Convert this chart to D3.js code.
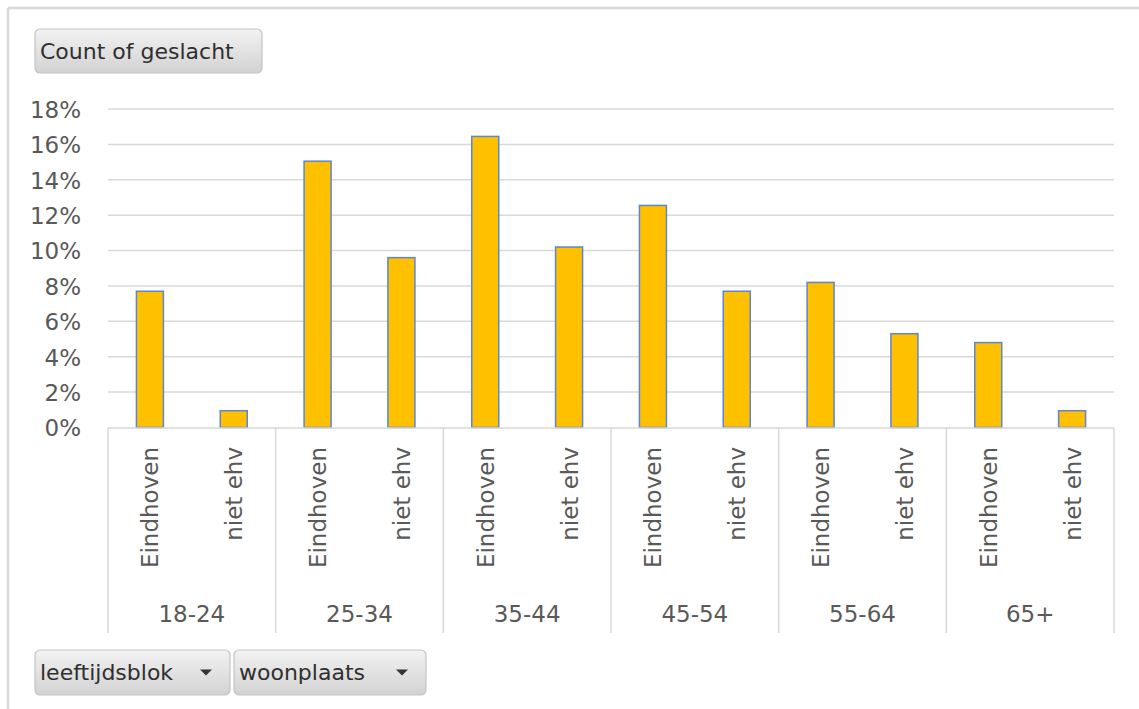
<!DOCTYPE html>
<html><head><meta charset="utf-8">
<script src="https://cdn.jsdelivr.net/npm/d3@7"></script>
<style>body{margin:0;background:#fff}svg{display:block}</style>
</head><body>
<script>
const groups = ["18-24","25-34","35-44","45-54","55-64","65+"];
const places = ["Eindhoven","niet ehv"];
const eindhoven = [0.077, 0.1505, 0.1645, 0.1255, 0.082, 0.048];
const nietEhv = [0.0095, 0.096, 0.102, 0.077, 0.053, 0.0095];
const yTicks = [0,0.02,0.04,0.06,0.08,0.10,0.12,0.14,0.16,0.18];

const W=1139,H=709;
const font="DejaVu Sans";
const svg=d3.select("body").append("svg").attr("width",W).attr("height",H);

const defs=svg.append("defs");
const g1=defs.append("linearGradient").attr("id","btn").attr("x1",0).attr("y1",0).attr("x2",0).attr("y2",1);
g1.append("stop").attr("offset","0%").attr("stop-color","#f2f2f2");
g1.append("stop").attr("offset","100%").attr("stop-color","#d2d2d2");

svg.append("line").attr("x1",8).attr("x2",W).attr("y1",8).attr("y2",8).attr("stroke","#d9d9d9").attr("stroke-width",2.5);
svg.append("line").attr("x1",8).attr("x2",8).attr("y1",8).attr("y2",H).attr("stroke","#d9d9d9").attr("stroke-width",2.5);

const L=108,R=1114,T=109,B=427.5;
const y=d3.scaleLinear().domain([0,0.18]).range([B,T]);
const x0=d3.scaleBand().domain(groups).range([L,R]).padding(0);
const x1=d3.scaleBand().domain(places).range([0,x0.bandwidth()]).padding(0);

svg.append("g").selectAll("line").data(yTicks.slice(1)).join("line")
  .attr("x1",L).attr("x2",R).attr("y1",d=>y(d)).attr("y2",d=>y(d))
  .attr("stroke","#d9d9d9").attr("stroke-width",1.5);

const yAxis=d3.axisLeft(y).tickValues(yTicks).tickFormat(d3.format(".0%")).tickSize(0).tickPadding(0);
const ya=svg.append("g").attr("transform","translate(81,0)").call(yAxis);
ya.select(".domain").remove();
ya.selectAll("text").attr("font-family",font).attr("font-size",23).attr("fill","#595959").attr("dy","0.36em");

const data=groups.map((g,i)=>({g,vals:[{p:places[0],v:eindhoven[i]},{p:places[1],v:nietEhv[i]}]}));
const bw=27;
const gg=svg.append("g").selectAll("g").data(data).join("g").attr("transform",d=>`translate(${x0(d.g)},0)`);
gg.selectAll("rect").data(d=>d.vals).join("rect")
  .attr("x",d=>x1(d.p)+x1.bandwidth()/2-bw/2).attr("width",bw)
  .attr("y",d=>y(d.v)).attr("height",d=>B-y(d.v))
  .attr("fill","#FFC000").attr("stroke","#5B86D0").attr("stroke-width",1.5);

svg.append("line").attr("x1",L).attr("x2",R).attr("y1",B+0.5).attr("y2",B+0.5).attr("stroke","#d9d9d9").attr("stroke-width",1.5);
const seps=groups.map(g=>x0(g)).concat([R]);
svg.append("g").selectAll("line").data(seps).join("line")
  .attr("x1",d=>d).attr("x2",d=>d).attr("y1",B).attr("y2",633)
  .attr("stroke","#d9d9d9").attr("stroke-width",1.5);

gg.selectAll("text.sub").data(d=>d.vals).join("text").attr("class","sub")
  .attr("transform",d=>`translate(${x1(d.p)+x1.bandwidth()/2+8.5},447) rotate(-90)`)
  .attr("text-anchor","end").attr("font-family",font).attr("font-size",23).attr("fill","#595959")
  .text(d=>d.p);
gg.append("text").attr("x",x0.bandwidth()/2).attr("y",622).attr("text-anchor","middle")
  .attr("font-family",font).attr("font-size",23).attr("fill","#595959").text(d=>d.g);

function button(x,yy,w,h,label,arrow){
  const b=svg.append("g");
  b.append("rect").attr("x",x).attr("y",yy).attr("width",w).attr("height",h).attr("rx",5)
   .attr("fill","url(#btn)").attr("stroke","#c4c4c4").attr("stroke-width",1.2);
  b.append("text").attr("x",x+5).attr("y",yy+h/2+7.5).attr("font-family",font).attr("font-size",22)
   .attr("fill","#2f2f2f").text(label);
  if(arrow){
    const ax=x+w-24, ay=yy+h/2-3;
    b.append("path").attr("d",`M${ax-6},${ay} L${ax+6},${ay} L${ax},${ay+6} Z`).attr("fill","#333");
  }
}
button(35,29,227,44,"Count of geslacht",false);
button(35,650,195,45,"leeftijdsblok",true);
button(234,650,192,45,"woonplaats",true);
</script>
</body></html>
